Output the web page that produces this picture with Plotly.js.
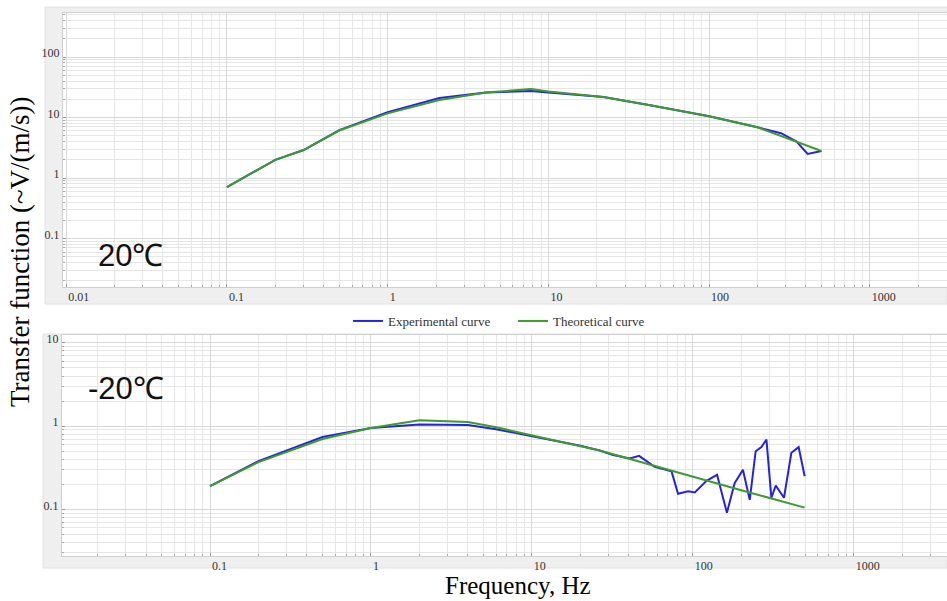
<!DOCTYPE html>
<html>
<head>
<meta charset="utf-8">
<script src="https://cdn.plot.ly/plotly-3.0.1.min.js"></script>
<style>html,body{margin:0;padding:0;background:#fff;}#chart{width:947px;height:601px;}</style>
</head>
<body>
<div id="chart"></div>
<script>
// ---- data ----
const topFreqExp  = [0.1, 0.2, 0.3, 0.5, 1, 2.1, 4.1, 7.8, 10, 22, 43, 100, 200, 280, 350, 410, 500];
const topExp      = [0.71, 2.0, 2.9, 6.2, 12.3, 21, 26, 27.5, 26, 21.8, 16, 10.5, 6.9, 5.5, 4.0, 2.5, 2.8];
const topFreqTheo = [0.1, 0.2, 0.3, 0.5, 1, 2.1, 4.1, 7.8, 10, 22, 43, 100, 200, 280, 350, 500];
const topTheo     = [0.71, 2.0, 2.9, 6.1, 11.7, 19.5, 26, 29.5, 27, 21.8, 16, 10.5, 6.9, 5.0, 4.0, 2.8];

const botFreqExp  = [0.1, 0.2, 0.5, 1, 2, 4, 6, 10, 20, 26.4, 32, 40.6, 46.4, 58, 73.8, 81, 93.6, 103, 121.7, 141.6, 163, 182, 205, 226, 246, 267, 287, 308, 328, 369, 410, 455, 496];
const botExp      = [0.19, 0.38, 0.74, 0.95, 1.05, 1.03, 0.92, 0.76, 0.58, 0.51, 0.45, 0.41, 0.44, 0.325, 0.286, 0.154, 0.165, 0.16, 0.22, 0.26, 0.091, 0.206, 0.30, 0.13, 0.50, 0.56, 0.69, 0.138, 0.193, 0.138, 0.48, 0.56, 0.25];
const botFreqTheo = [0.1, 0.2, 0.5, 1, 2, 4, 6, 10, 20, 26.4, 50, 100, 200, 496];
const botTheo     = [0.19, 0.37, 0.70, 0.95, 1.18, 1.12, 0.97, 0.78, 0.58, 0.51, 0.36, 0.245, 0.17, 0.105];

const xTickVals = [0.01, 0.1, 1, 10, 100, 1000];
const xTickText = ['0.01', '0.1', '1', '10', '100', '1000'];
const yTickValsTop = [0.1, 1, 10, 100];
const yTickTextTop = ['0.1', '1', '10', '100'];
const yTickValsBot = [0.1, 1, 10];
const yTickTextBot = ['0.1', '1', '10'];

const seriesNames = ['Experimental curve', 'Theoretical curve'];
const panelLabels = ['20\u2103', '-20\u2103'];
const axisTitleY = 'Transfer function (~V/(m/s))';
const axisTitleX = 'Frequency, Hz';

// ---- styling ----
const W = 947, H = 601;
const px = v => v / W;
const py = v => 1 - v / H;
const blue = '#2424e0', green = '#3f9a30';
const serif = 'Liberation Serif, Times New Roman, serif';
const tickFont = {family: serif, size: 12, color: '#333'};
const gridC = '#d9d9d9', minorC = '#e6e6e6';

function xAxis(domain, range, anchor) {
  return {
    type: 'log', domain: domain, range: range, anchor: anchor,
    tickvals: xTickVals, ticktext: xTickText, tickfont: tickFont,
    ticklabelposition: 'outside right', ticklabelshift: 1, ticklabelstandoff: -1,
    ticks: 'inside', ticklen: 3, tickcolor: '#999',
    showgrid: true, gridcolor: gridC, gridwidth: 1,
    minor: {dtick: 'D1', showgrid: true, gridcolor: minorC, ticks: 'inside', ticklen: 2, tickcolor: '#aaa'},
    showline: true, linecolor: '#cfcfcf', mirror: true, zeroline: false, fixedrange: true
  };
}
function yAxis(domain, range, anchor, vals, text) {
  return {
    type: 'log', domain: domain, range: range, anchor: anchor,
    tickvals: vals, ticktext: text, tickfont: tickFont,
    ticklabelposition: 'outside top', ticklabelshift: 5, ticklabelstandoff: 0,
    ticks: 'inside', ticklen: 3, tickcolor: '#999',
    showgrid: true, gridcolor: gridC, gridwidth: 1,
    minor: {dtick: 'D1', showgrid: true, gridcolor: minorC, ticks: 'inside', ticklen: 2, tickcolor: '#aaa'},
    showline: true, linecolor: '#cfcfcf', mirror: true, zeroline: false, fixedrange: true
  };
}

const traces = [
  {x: topFreqExp, y: topExp, xaxis: 'x', yaxis: 'y', mode: 'lines', name: seriesNames[0],
   line: {color: blue, width: 2}, legendgroup: 'e', showlegend: true},
  {x: topFreqTheo, y: topTheo, xaxis: 'x', yaxis: 'y', mode: 'lines', name: seriesNames[1],
   line: {color: green, width: 2}, legendgroup: 't', showlegend: true},
  {x: botFreqExp, y: botExp, xaxis: 'x2', yaxis: 'y2', mode: 'lines', name: seriesNames[0],
   line: {color: blue, width: 2}, legendgroup: 'e', showlegend: false},
  {x: botFreqTheo, y: botTheo, xaxis: 'x2', yaxis: 'y2', mode: 'lines', name: seriesNames[1],
   line: {color: green, width: 2}, legendgroup: 't', showlegend: false}
];

const layout = {
  width: W, height: H,
  margin: {l: 0, r: 0, t: 0, b: 0, pad: 0},
  paper_bgcolor: '#ffffff', plot_bgcolor: '#ffffff',
  showlegend: true,
  legend: {orientation: 'h', x: px(348), xanchor: 'left', y: py(306), yanchor: 'top',
           font: {family: serif, size: 13, color: '#333'},
           bgcolor: 'rgba(0,0,0,0)', entrywidth: 120, entrywidthmode: 'pixels', itemwidth: 30},
  xaxis: xAxis([px(63), 1], [-2.02, 3.48], 'y'),
  yaxis: yAxis([py(287), py(13)], [-1.80, 2.727], 'x', yTickValsTop, yTickTextTop),
  xaxis2: xAxis([px(62), 1], [-1.92, 3.58], 'y2'),
  yaxis2: yAxis([py(556), py(335)], [-1.56, 1.095], 'x2', yTickValsBot, yTickTextBot),
  shapes: [
    {type: 'rect', xref: 'paper', yref: 'paper', x0: px(45), x1: 1, y0: py(304), y1: py(7),
     fillcolor: '#efefef', line: {width: 1, color: '#e2e2e2'}, layer: 'below'},
    {type: 'rect', xref: 'paper', yref: 'paper', x0: px(43), x1: 1, y0: py(568), y1: py(334),
     fillcolor: '#efefef', line: {width: 1, color: '#e2e2e2'}, layer: 'below'},
    {type: 'rect', xref: 'paper', yref: 'paper', x0: px(63), x1: 1, y0: py(287), y1: py(13),
     fillcolor: '#ffffff', line: {width: 0}, layer: 'below'},
    {type: 'rect', xref: 'paper', yref: 'paper', x0: px(62), x1: 1, y0: py(556), y1: py(335),
     fillcolor: '#ffffff', line: {width: 0}, layer: 'below'}
  ],
  annotations: [
    {text: panelLabels[0], xref: 'paper', yref: 'paper', x: px(96), y: py(255), xanchor: 'left', yanchor: 'middle',
     showarrow: false, font: {family: 'Liberation Sans Narrow, Liberation Sans, sans-serif', size: 31, color: '#111'}},
    {text: panelLabels[1], xref: 'paper', yref: 'paper', x: px(86), y: py(388), xanchor: 'left', yanchor: 'middle',
     showarrow: false, font: {family: 'Liberation Sans Narrow, Liberation Sans, sans-serif', size: 31, color: '#111'}},
    {text: axisTitleY, xref: 'paper', yref: 'paper', x: px(20), y: py(252), xanchor: 'center', yanchor: 'middle',
     textangle: -90, showarrow: false, font: {family: serif, size: 27, color: '#000'}},
    {text: axisTitleX, xref: 'paper', yref: 'paper', x: px(518), y: py(585), xanchor: 'center', yanchor: 'middle',
     showarrow: false, font: {family: serif, size: 25, color: '#000'}}
  ]
};

Plotly.newPlot('chart', traces, layout, {staticPlot: true, displayModeBar: false});
</script>
</body>
</html>
